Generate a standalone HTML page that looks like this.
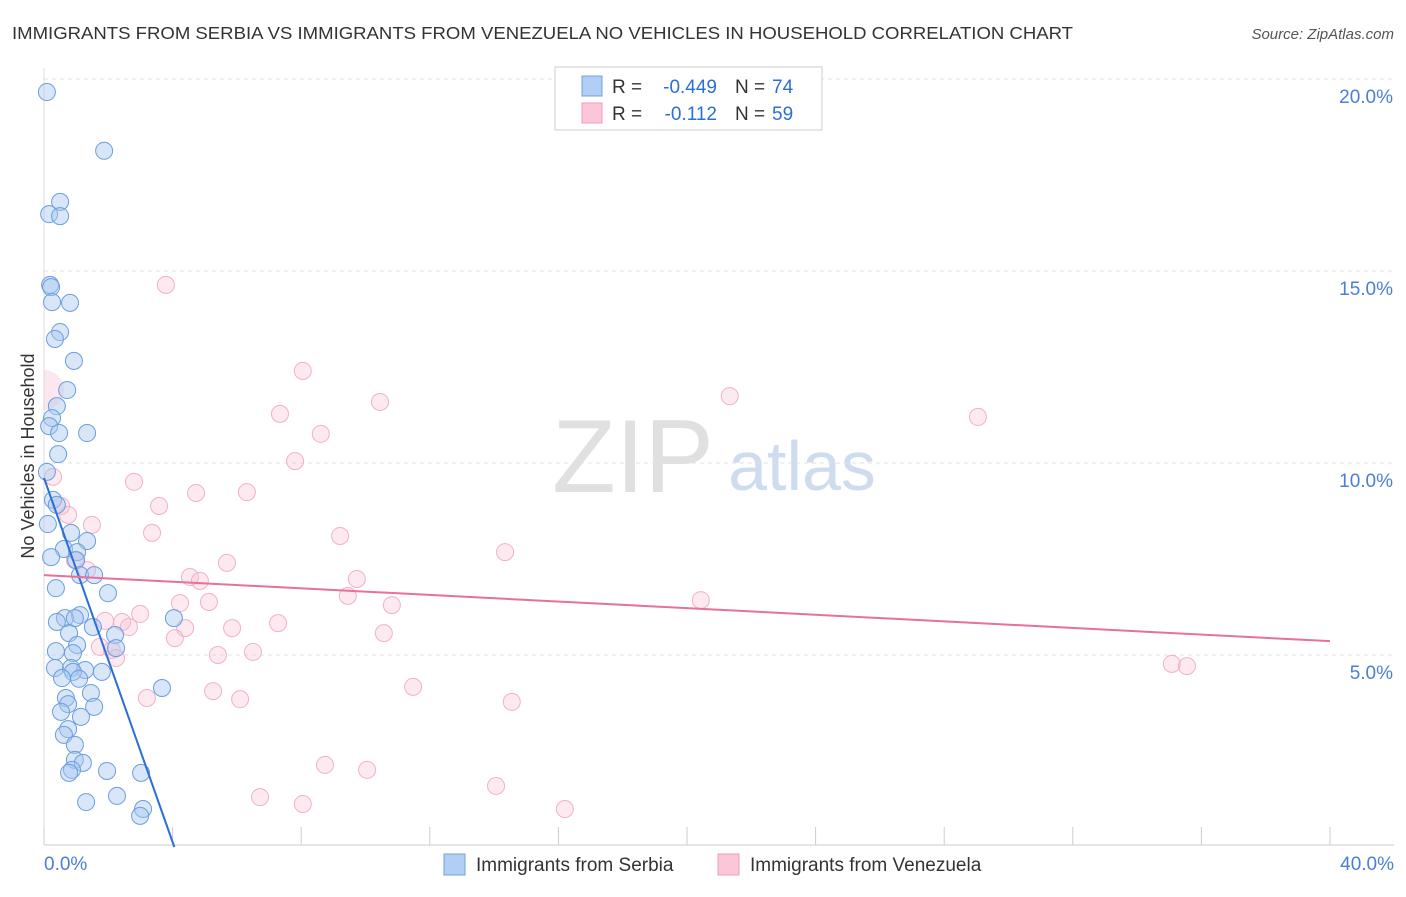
<!DOCTYPE html>
<html><head><meta charset="utf-8"><style>
body{margin:0;background:#fff;font-family:"Liberation Sans",sans-serif;}
svg text{font-family:"Liberation Sans",sans-serif;}
</style></head><body>
<svg id="chart" width="1406" height="892" xmlns="http://www.w3.org/2000/svg">
<defs><clipPath id="plotclip"><rect x="44" y="60" width="1360" height="786"/></clipPath></defs>
<text x="12" y="39" font-size="17.5" fill="#333" textLength="1061" lengthAdjust="spacingAndGlyphs">IMMIGRANTS FROM SERBIA VS IMMIGRANTS FROM VENEZUELA NO VEHICLES IN HOUSEHOLD CORRELATION CHART</text>
<text x="1394" y="39" font-size="15" fill="#555" text-anchor="end" font-style="italic">Source: ZipAtlas.com</text>
<text transform="translate(34,456) rotate(-90)" font-size="18" fill="#333" text-anchor="middle">No Vehicles in Household</text>
<g>
<text x="633" y="492" font-size="104" fill="#e0e0e0" font-family="Liberation Serif,serif" text-anchor="middle">ZIP</text>
<text x="802" y="490" font-size="70" fill="#cfdcf0" text-anchor="middle">atlas</text>
</g>
<g id="grid"></g><g id="ticks"></g><g id="bigpt" clip-path="url(#plotclip)"></g><g id="pts"></g><g id="lines"></g>
<g>
<rect x="555" y="67" width="267" height="63" fill="#fff" stroke="#ccc"/>
<rect x="582" y="76" width="20" height="20" fill="#b3cef5" stroke="#6fa0de"/>
<rect x="582" y="103" width="20" height="20" fill="#fbc7d8" stroke="#f09cb8"/>
<text x="612" y="93" font-size="19" fill="#333">R =</text>
<text x="717" y="93" font-size="19" fill="#2a6fd6" text-anchor="end">-0.449</text>
<text x="735" y="93" font-size="19" fill="#333">N =</text>
<text x="772" y="93" font-size="19" fill="#2a6fd6">74</text>
<text x="612" y="120" font-size="19" fill="#333">R =</text>
<text x="717" y="120" font-size="19" fill="#2a6fd6" text-anchor="end">-0.112</text>
<text x="735" y="120" font-size="19" fill="#333">N =</text>
<text x="772" y="120" font-size="19" fill="#2a6fd6">59</text>
</g>
<g>
<rect x="444" y="854" width="21" height="21" fill="#b3cef5" stroke="#6fa0de"/>
<text x="476" y="871" font-size="19" fill="#333">Immigrants from Serbia</text>
<rect x="718" y="854" width="21" height="21" fill="#fbc7d8" stroke="#f09cb8"/>
<text x="750" y="871" font-size="19" fill="#333">Immigrants from Venezuela</text>
</g>
</svg>
<script>
const yTicks=[5,10,15,20];
const xTickLabels=["0.0%","40.0%"];
const serbiaX=[0.09,1.87,0.5,0.16,0.5,0.19,0.22,0.25,0.81,0.5,0.34,0.93,0.72,0.4,0.25,0.16,0.47,1.34,0.44,0.09,0.28,0.4,0.12,0.84,1.34,0.62,1.03,0.22,1.0,1.12,1.56,0.37,1.99,1.12,0.65,0.96,0.4,4.04,1.52,0.78,2.21,1.03,2.24,0.37,0.9,0.34,0.84,1.28,0.9,1.8,0.56,1.09,3.67,1.46,0.68,0.75,1.56,0.53,1.15,0.75,0.62,0.96,0.96,1.21,0.87,0.78,1.96,3.02,2.27,1.31,3.08,2.99];
const serbiaY=[19.66,18.13,16.8,16.48,16.43,14.64,14.58,14.19,14.17,13.41,13.23,12.66,11.9,11.48,11.17,10.96,10.78,10.78,10.23,9.77,9.04,8.91,8.41,8.18,7.97,7.76,7.68,7.55,7.47,7.08,7.08,6.74,6.61,6.04,5.96,5.96,5.86,5.96,5.73,5.57,5.52,5.26,5.18,5.1,5.05,4.66,4.66,4.61,4.56,4.56,4.4,4.38,4.14,4.01,3.88,3.72,3.65,3.52,3.39,3.07,2.92,2.66,2.27,2.19,2.01,1.93,1.98,1.93,1.33,1.17,0.99,0.81];
const venX=[3.79,8.05,21.33,10.45,7.34,29.05,8.61,7.81,0.28,2.8,4.73,6.31,0.53,3.58,0.75,1.49,3.36,9.21,14.34,0.96,5.69,1.34,4.54,4.85,9.73,9.45,4.23,5.13,20.43,10.82,2.99,1.9,2.43,2.64,7.28,5.85,4.39,10.57,4.07,1.74,2.11,6.5,5.41,2.24,35.08,35.55,11.48,5.26,6.1,3.2,14.55,8.74,10.05,6.72,8.05,14.06,16.2];
const venY=[14.64,12.4,11.74,11.59,11.28,11.2,10.76,10.05,9.64,9.51,9.22,9.24,8.88,8.88,8.65,8.39,8.18,8.1,7.68,7.47,7.4,7.21,7.03,6.93,6.98,6.54,6.35,6.38,6.43,6.3,6.07,5.89,5.86,5.73,5.83,5.7,5.7,5.57,5.44,5.21,5.13,5.08,5.0,4.92,4.77,4.71,4.17,4.06,3.85,3.88,3.78,2.14,2.01,1.3,1.12,1.59,0.99];
const serbiaTrend=[9.61,-2.37];
const venTrend=[7.08,-0.043];
const X=v=>44+v/40*1286, Y=v=>847-v*38.4;
const NS="http://www.w3.org/2000/svg";
function mk(t,a,p){const e=document.createElementNS(NS,t);for(const k in a)e.setAttribute(k,a[k]);p.appendChild(e);return e;}
const grid=document.getElementById('grid'),ticks=document.getElementById('ticks'),pts=document.getElementById('pts'),lines=document.getElementById('lines'),bigpt=document.getElementById('bigpt');
yTicks.forEach(t=>{const l=mk('line',{x1:44,x2:1394,y1:Y(t),y2:Y(t),stroke:'#e2e2e2','stroke-dasharray':'4,4'},grid);


const tx=mk('text',{x:1393,y:Y(t)+24,'font-size':19,fill:'#4a7fd4','text-anchor':'end'},ticks);tx.textContent=t.toFixed(1)+'%';

});
const ax=mk('line',{x1:44,x2:1394,y1:845,y2:845,stroke:'#ccc'},grid);


const yax=mk('line',{x1:44,x2:44,y1:68,y2:845,stroke:'#ddd'},grid);


for(let i=0;i<=10;i++){const tk=mk('line',{x1:X(i*4),x2:X(i*4),y1:827,y2:845,stroke:'#ccc'},grid);

}
[[0,'start',44],[40,'end',1394]].forEach((d,i)=>{const t=mk('text',{x:d[2],y:870,'font-size':19,fill:'#4a7fd4','text-anchor':d[1]},ticks);t.textContent=xTickLabels[i];

});
const big=mk('circle',{cx:X(0),cy:Y(11.9),r:20,fill:'rgba(248,187,208,0.35)'},bigpt);


venX.forEach((x,i)=>{const c=mk('circle',{cx:X(x),cy:Y(venY[i]),r:8.5,fill:'rgba(248,187,208,0.3)',stroke:'#f2b0c8','stroke-width':1},pts);

});
serbiaX.forEach((x,i)=>{const c=mk('circle',{cx:X(x),cy:Y(serbiaY[i]),r:8.5,fill:'rgba(168,200,240,0.45)',stroke:'#6a9ede','stroke-width':1},pts);

});
const sEnd=-serbiaTrend[0]/serbiaTrend[1];
const bl=mk('line',{x1:X(0),y1:Y(serbiaTrend[0]),x2:X(sEnd),y2:Y(0),stroke:'#2a6fd6','stroke-width':2},lines);


const pl=mk('line',{x1:X(0),y1:Y(venTrend[0]),x2:X(40),y2:Y(venTrend[0]+venTrend[1]*40),stroke:'#e8709a','stroke-width':2},lines);


</script>
</body></html>
